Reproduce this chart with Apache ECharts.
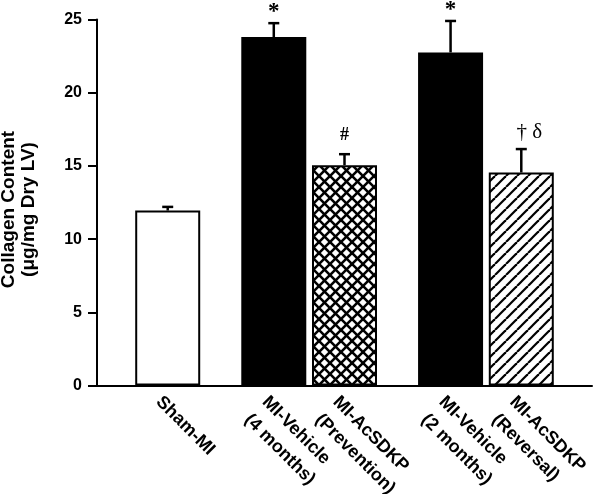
<!DOCTYPE html>
<html>
<head>
<meta charset="utf-8">
<script src="https://cdn.jsdelivr.net/npm/echarts@6/dist/echarts.min.js"></script>
<style>
html,body{margin:0;padding:0;background:#fff;}
#chart{width:600px;height:494px;}
</style>
</head>
<body>
<div id="chart"></div>
<script>
// ---- data ----
const categories = ['Sham-MI', 'MI-Vehicle\n(4 months)', 'MI-AcSDKP\n(Prevention)', 'MI-Vehicle\n(2 months)', 'MI-AcSDKP\n(Reversal)'];
const slots = [4, 10, 14, 20, 24];          // positions of the groups on the category line
const means = [11.95, 23.8, 15.05, 22.75, 14.55];
const sems = [0.25, 0.95, 0.75, 2.15, 1.6];
const marks = ['', '*', '#', '*', '\u2020 \u03b4'];
const fills = ['white', 'black', 'cross', 'black', 'diag'];
const yTicks = [0, 5, 10, 15, 20, 25];

function makePattern(kind) {
  const s = 11;
  const c = document.createElement('canvas');
  c.width = s; c.height = s;
  const g = c.getContext('2d');
  g.fillStyle = '#fff'; g.fillRect(0, 0, s, s);
  g.strokeStyle = '#000';
  g.lineWidth = kind === 'cross' ? 2.6 : 2.2;
  for (const x0 of [-s, 0, s]) {
    g.beginPath(); g.moveTo(x0, s); g.lineTo(x0 + s, 0); g.stroke();
    if (kind === 'cross') { g.beginPath(); g.moveTo(x0, 0); g.lineTo(x0 + s, s); g.stroke(); }
  }
  return { image: c, repeat: 'repeat' };
}
function fillColor(f) {
  if (f === 'white') return '#fff';
  if (f === 'black') return '#000';
  return makePattern(f);
}

const FONT = 'Liberation Sans, Arial, Helvetica, sans-serif';
const chart = echarts.init(document.getElementById('chart'), null, { renderer: 'canvas' });

const barData = slots.map((x, i) => ({
  value: [x, means[i]],
  itemStyle: { color: fillColor(fills[i]), borderColor: '#000', borderWidth: 2 }
}));
const errData = slots.map((x, i) => [x, means[i], means[i] + sems[i], i]);

chart.setOption({
  animation: false,
  backgroundColor: '#fff',
  grid: { left: 97, right: 8, top: 19.5, bottom: 108.5, containLabel: false, outerBoundsMode: 'none' },
  xAxis: {
    type: 'value', min: 0, max: 28,
    axisLine: { show: true, onZero: false, lineStyle: { color: '#000', width: 2 } },
    axisTick: { show: false },
    splitLine: { show: false },
    axisLabel: {
      customValues: slots,
      rotate: -45,
      align: 'left',
      verticalAlign: 'top',
      margin: 5,
      color: '#000',
      fontFamily: FONT,
      fontWeight: 'bold',
      fontSize: 18,
      lineHeight: 25,
      formatter: v => { const i = slots.indexOf(v); return i < 0 ? '' : categories[i]; }
    }
  },
  yAxis: {
    type: 'value', min: 0, max: 25, interval: 5,
    name: 'Collagen Content\n(\u03bcg/mg Dry LV)',
    nameLocation: 'middle',
    nameRotate: 90,
    nameGap: 58,
    nameTextStyle: { color: '#000', fontFamily: FONT, fontWeight: 'bold', fontSize: 19, lineHeight: 20, padding: [0, 14, 0, 0] },
    axisLine: { show: true, lineStyle: { color: '#000', width: 2 } },
    axisTick: { show: true, inside: false, length: 9, lineStyle: { color: '#000', width: 2 } },
    splitLine: { show: false },
    axisLabel: {
      customValues: yTicks,
      margin: 15, color: '#000', fontFamily: FONT, fontWeight: 'bold', fontSize: 16
    }
  },
  series: [
    {
      type: 'bar',
      barWidth: 65,
      data: barData,
      z: 2
    },
    {
      type: 'custom',
      z: 3,
      clip: false,
      data: errData,
      renderItem: function (params, api) {
        const x = api.value(0);
        const p0 = api.coord([x, api.value(1)]);
        const p1 = api.coord([x, api.value(2)]);
        const idx = api.value(3);
        const children = [
          { type: 'line', shape: { x1: p0[0], y1: p0[1], x2: p1[0], y2: p1[1] }, style: { stroke: '#000', lineWidth: 2.5 } },
          { type: 'line', shape: { x1: p1[0] - 5.5, y1: p1[1], x2: p1[0] + 5.5, y2: p1[1] }, style: { stroke: '#000', lineWidth: 2.5 } }
        ];
        const m = marks[idx];
        if (m) {
          const star = m === '*';
          children.push({
            type: 'text',
            x: p1[0] + (m.length > 1 ? 8 : 0),
            y: p1[1] - (star ? 11 : (m === '#' ? 19 : 17)),
            style: {
              text: m, fill: '#000', align: 'center', verticalAlign: 'middle',
              font: (star ? 'bold 23px ' : (m === '#' ? 'bold 18px ' : '21px ')) + 'Liberation Serif, Times New Roman, serif'
            }
          });
        }
        return { type: 'group', children: children };
      }
    }
  ]
});
</script>
</body>
</html>
